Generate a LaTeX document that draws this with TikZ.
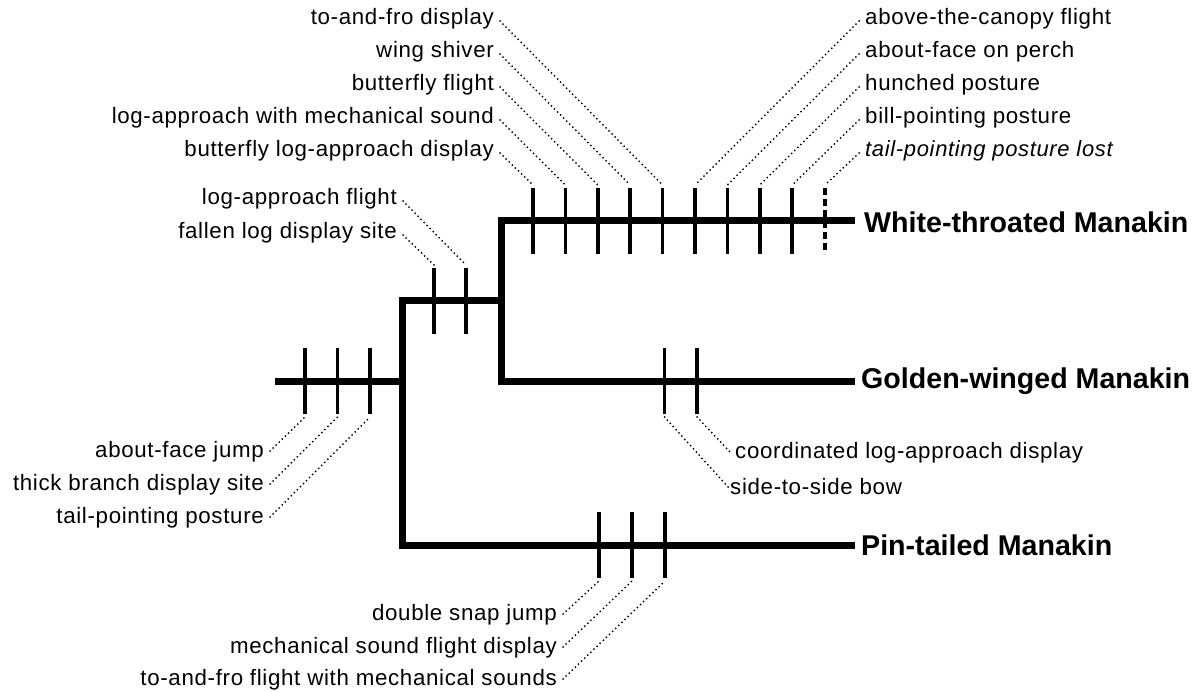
\documentclass[tikz,border=0pt]{standalone}
\usepackage{fontspec}
\setmainfont{Liberation Sans}[LetterSpace=3]
\newfontfamily\spfont{Liberation Sans}
\usetikzlibrary{calc}
\begin{document}
\begin{tikzpicture}[x=1pt,y=-1pt,
  branch/.style={line width=7pt, line join=miter},
  tickmark/.style={line width=3.5pt},
  dashtick/.style={line width=3.5pt, dash pattern=on 7pt off 4pt},
  leader/.style={line width=2pt, line cap=round, dash pattern=on 0pt off 4.3pt},
  lab/.style={inner sep=0pt, font=\fontsize{22.3}{24}\selectfont},
  itlab/.style={inner sep=0pt, font=\fontsize{22}{24}\selectfont\itshape},
  species/.style={inner sep=0pt, anchor=west, font=\spfont\fontsize{28.6}{32}\selectfont\bfseries}]
\useasboundingbox (0,0) rectangle (1198,692);
% branches
\draw[branch] (855,221) -- (501,221) -- (501,381) -- (855,381);
\draw[branch] (501,301) -- (402,301) -- (402,545) -- (855,545);
\draw[branch] (275,381) -- (405,381);
% species
\node[species] (wt) at (864,222) {White-throated Manakin};
\node[species] (gw) at (861,381) {Golden-winged Manakin};
\node[species] (pt) at (861,545) {Pin-tailed Manakin};
% ticks: white-throated
\foreach \i/\x in {1/533,2/565.4,3/597.8,4/630.2,5/662.6,6/695,7/727.4,8/759.8,9/792.2}{
  \coordinate (wT\i) at (\x,185);
  \draw[tickmark] (\x,188) -- (\x,254);
}
\coordinate (wT10) at (825,185);
\draw[dashtick] (825,188) -- (825,254);
% ticks: upper internal
\foreach \i/\x in {1/434,2/466}{
  \coordinate (uT\i) at (\x,265);
  \draw[tickmark] (\x,268) -- (\x,334);
}
% ticks: root
\foreach \i/\x in {1/305,2/337.5,3/370}{
  \coordinate (rB\i) at (\x,417);
  \draw[tickmark] (\x,348) -- (\x,414);
}
% ticks: golden
\foreach \i/\x in {1/664.5,2/697}{
  \coordinate (gB\i) at (\x,417);
  \draw[tickmark] (\x,348) -- (\x,414);
}
% ticks: pin-tailed
\foreach \i/\x in {1/599,2/632,3/665}{
  \coordinate (pB\i) at (\x,581);
  \draw[tickmark] (\x,512) -- (\x,578);
}
% top-left labels
\node[lab, anchor=base east] (a1) at (494,25) {to-and-fro display};
\node[lab, anchor=base east] (a2) at (494,58) {wing shiver};
\node[lab, anchor=base east] (a3) at (494,91) {butterfly flight};
\node[lab, anchor=base east] (a4) at (494,124) {log-approach with mechanical sound};
\node[lab, anchor=base east] (a5) at (494,157) {butterfly log-approach display};
\draw[leader] ($(a1.base east)+(6,-4)$) -- (wT5);
\draw[leader] ($(a2.base east)+(6,-4)$) -- (wT4);
\draw[leader] ($(a3.base east)+(6,-4)$) -- (wT3);
\draw[leader] ($(a4.base east)+(6,-4)$) -- (wT2);
\draw[leader] ($(a5.base east)+(6,-4)$) -- (wT1);
% top-right labels
\node[lab, anchor=base west] (b1) at (865,25) {above-the-canopy flight};
\node[lab, anchor=base west] (b2) at (865,58) {about-face on perch};
\node[lab, anchor=base west] (b3) at (865,91) {hunched posture};
\node[lab, anchor=base west] (b4) at (865,124) {bill-pointing posture};
\node[itlab, anchor=base west] (b5) at (865,157) {tail-pointing posture lost};
\draw[leader] ($(b1.base west)+(-6,-4)$) -- (wT6);
\draw[leader] ($(b2.base west)+(-6,-4)$) -- (wT7);
\draw[leader] ($(b3.base west)+(-6,-4)$) -- (wT8);
\draw[leader] ($(b4.base west)+(-6,-4)$) -- (wT9);
\draw[leader] ($(b5.base west)+(-6,-4)$) -- (wT10);
% mid-left labels
\node[lab, anchor=base east] (c1) at (397,205) {log-approach flight};
\node[lab, anchor=base east] (c2) at (397,239) {fallen log display site};
\draw[leader] ($(c1.base east)+(6,-4)$) -- (uT2);
\draw[leader] ($(c2.base east)+(6,-4)$) -- (uT1);
% bottom-left labels
\node[lab, anchor=base east] (d1) at (264,457) {about-face jump};
\node[lab, anchor=base east] (d2) at (264,490) {thick branch display site};
\node[lab, anchor=base east] (d3) at (264,523) {tail-pointing posture};
\draw[leader] ($(d1.base east)+(6,-6)$) -- (rB1);
\draw[leader] ($(d2.base east)+(6,-6)$) -- (rB2);
\draw[leader] ($(d3.base east)+(6,-6)$) -- (rB3);
% golden labels
\node[lab, anchor=base west] (e1) at (735,458) {coordinated log-approach display};
\node[lab, anchor=base west] (e2) at (730,494) {side-to-side bow};
\draw[leader] (gB2) -- ($(e1.base west)+(-5,-6)$);
\draw[leader] (gB1) -- ($(e2.base west)+(-1,-6)$);
% bottom labels
\node[lab, anchor=base east] (f1) at (557,620) {double snap jump};
\node[lab, anchor=base east] (f2) at (557,653) {mechanical sound flight display};
\node[lab, anchor=base east] (f3) at (557,685) {to-and-fro flight with mechanical sounds};
\draw[leader] ($(f1.base east)+(6,-6)$) -- (pB1);
\draw[leader] ($(f2.base east)+(6,-6)$) -- (pB2);
\draw[leader] ($(f3.base east)+(6,-6)$) -- (pB3);
\end{tikzpicture}
\end{document}
